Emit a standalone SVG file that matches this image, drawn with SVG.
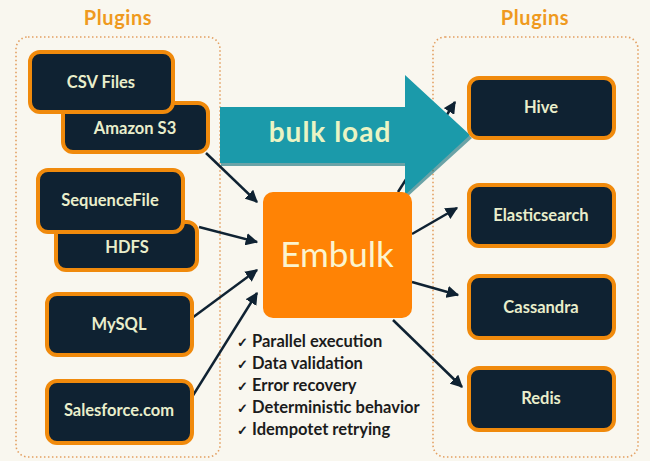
<svg xmlns="http://www.w3.org/2000/svg" width="650" height="461" viewBox="0 0 650 461">
<defs>
<style>
.title{font-family:Lato,"Noto Sans",sans-serif;font-weight:bold;font-size:20px;letter-spacing:0.6px;fill:#ef9a1e;text-anchor:middle}
.grp{fill:none;stroke:#e3a062;stroke-width:1.6;stroke-dasharray:1.5 2.5}
.node rect{fill:#0f2232;stroke:#f08a0c;stroke-width:4}
.node text{font-family:Lato,"Noto Sans",sans-serif;font-weight:bold;font-size:16.5px;fill:#e9eecb;text-anchor:middle}
.conn line{stroke:#0f2232;stroke-width:2.5;marker-end:url(#ah)}
.chk{font-family:Lato,"Noto Sans",sans-serif;font-weight:bold;font-size:16.5px;fill:#1c1c1c}
.chk tspan.m{font-size:13px}
</style>
<marker id="ah" viewBox="0 0 10 10" refX="9" refY="5" markerWidth="5" markerHeight="5" orient="auto" markerUnits="strokeWidth">
<path d="M0,0 L10,5 L0,10 z" fill="#0f2232"/>
</marker>
</defs>
<rect width="650" height="461" fill="#f9f7ef"/>
<text class="title" x="118" y="25">Plugins</text>
<text class="title" x="535" y="25">Plugins</text>
<rect class="grp" x="16" y="37" width="204" height="420" rx="12"/>
<rect class="grp" x="433" y="37" width="205" height="420" rx="12"/>

<g id="connectors" class="conn">
<line x1="206" y1="153" x2="257" y2="202"/>
<line x1="199" y1="227" x2="257" y2="242"/>
<line x1="192" y1="318" x2="257" y2="270"/>
<line x1="192" y1="397" x2="257" y2="293"/>
<line x1="398" y1="192" x2="455" y2="102"/>
<line x1="412" y1="234" x2="457" y2="208"/>
<line x1="412" y1="282" x2="458" y2="295"/>
<line x1="393" y1="320" x2="462" y2="387"/>
</g>

<g id="bulkload">
<path d="M221,110 L406,110 L406,78 L472,138 L406,198 L406,166 L221,166 z" fill="#0c6b76" opacity="0.6"/>
<path d="M220,107 L405,107 L405,75 L470,135 L405,195 L405,163 L220,163 z" fill="#1b9aaa"/>
<text x="330" y="142" font-family="Lato,'Noto Sans',sans-serif" font-weight="bold" font-size="28" letter-spacing="1" fill="#eaf4c4" text-anchor="middle">bulk load</text>
</g>

<g id="amazon-s3" class="node"><rect x="63" y="103" width="145" height="49" rx="10"/><text x="135" y="134">Amazon S3</text></g>
<g id="csv-files" class="node"><rect x="30" y="52" width="143" height="60" rx="10"/><text x="101" y="88">CSV Files</text></g>
<g id="hdfs" class="node"><rect x="56" y="222" width="141" height="48" rx="10"/><text x="127" y="253">HDFS</text></g>
<g id="sequencefile" class="node"><rect x="38" y="170" width="145" height="62" rx="10"/><text x="110" y="206">SequenceFile</text></g>
<g id="mysql" class="node"><rect x="47" y="294" width="145" height="61" rx="10"/><text x="119" y="330">MySQL</text></g>
<g id="salesforce" class="node"><rect x="47" y="381" width="145" height="62" rx="10"/><text x="119" y="416">Salesforce.com</text></g>

<g id="hive" class="node"><rect x="469" y="78" width="145" height="60" rx="10"/><text x="541" y="113">Hive</text></g>
<g id="elasticsearch" class="node"><rect x="469" y="185" width="145" height="61" rx="10"/><text x="541" y="221">Elasticsearch</text></g>
<g id="cassandra" class="node"><rect x="469" y="276" width="145" height="62" rx="10"/><text x="541" y="313">Cassandra</text></g>
<g id="redis" class="node"><rect x="469" y="368" width="145" height="62" rx="10"/><text x="541" y="404">Redis</text></g>

<g id="embulk">
<rect x="263" y="192" width="149" height="126" rx="10" fill="#ff8305"/>
<text x="337" y="267" font-family="Lato,'Noto Sans',sans-serif" font-size="35" fill="#fbf4cf" text-anchor="middle">Embulk</text>
</g>

<g id="features" class="chk">
<text x="237" y="347"><tspan class="m">✓</tspan> Parallel execution</text>
<text x="237" y="369"><tspan class="m">✓</tspan> Data validation</text>
<text x="237" y="391"><tspan class="m">✓</tspan> Error recovery</text>
<text x="237" y="413"><tspan class="m">✓</tspan> Deterministic behavior</text>
<text x="237" y="435"><tspan class="m">✓</tspan> Idempotet retrying</text>
</g>
</svg>
